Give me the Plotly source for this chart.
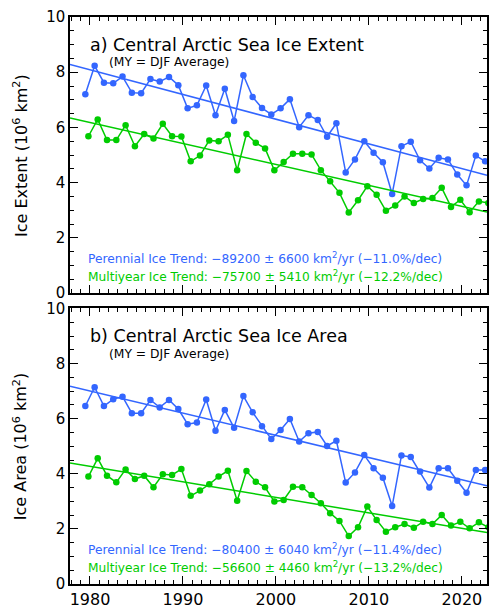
import numpy as np
import plotly.graph_objects as go

years = list(range(1979, 2023))
# plotting time within each year (fraction of year)
perennial_time = 0.5
multiyear_time = 0.83

ext_perennial = [7.20, 8.23, 7.62, 7.60, 7.84, 7.26, 7.24, 7.75, 7.66, 7.83, 7.53,
                 6.69, 6.80, 7.52, 6.44, 7.40, 6.23, 7.89, 7.10, 6.70, 6.47,
                 6.69, 7.02, 6.01, 6.44, 6.27, 5.66, 6.15, 4.37, 4.84, 5.50,
                 5.08, 4.74, 3.59, 5.32, 5.48, 4.81, 4.51, 4.90, 4.84, 4.29,
                 3.90, 4.98, 4.77]
ext_multiyear = [5.68, 6.29, 5.54, 5.54, 6.08, 5.32, 5.76, 5.60, 6.13, 5.68, 5.67,
                 4.77, 4.98, 5.53, 5.50, 5.73, 4.45, 5.76, 5.44, 5.24, 4.45,
                 4.75, 5.05, 5.05, 5.02, 4.45, 4.05, 3.63, 2.92, 3.36, 3.87,
                 3.56, 2.98, 3.17, 3.50, 3.26, 3.41, 3.44, 3.81, 3.12, 3.38,
                 2.93, 3.32, 3.26]
area_perennial = [6.46, 7.14, 6.46, 6.71, 6.80, 6.20, 6.20, 6.68, 6.41, 6.68, 6.35,
                  5.80, 5.86, 6.70, 5.56, 6.32, 5.67, 6.82, 6.23, 5.73, 5.26,
                  5.59, 5.99, 5.17, 5.47, 5.52, 5.01, 5.20, 3.68, 4.05, 4.68,
                  4.20, 3.86, 2.83, 4.66, 4.61, 4.08, 3.50, 4.20, 4.20, 3.75,
                  3.31, 4.14, 4.14]
area_multiyear = [3.90, 4.56, 3.93, 3.69, 4.16, 3.81, 3.93, 3.51, 3.98, 3.96, 4.17,
                  3.20, 3.39, 3.62, 3.90, 4.11, 3.02, 4.10, 3.71, 3.51, 2.99,
                  3.05, 3.53, 3.51, 3.23, 2.93, 2.57, 2.29, 1.74, 2.06, 2.81,
                  2.32, 1.90, 2.06, 2.18, 2.04, 2.26, 2.18, 2.50, 2.12, 2.26,
                  2.02, 2.24, 2.06]

trend_text = {
    "a": ["Perennial Ice Trend: −89200 ± 6600 km<sup>2</sup>/yr (−11.0%/dec)",
          "Multiyear Ice Trend: −75700 ± 5410 km<sup>2</sup>/yr (−12.2%/dec)"],
    "b": ["Perennial Ice Trend: −80400 ± 6040 km<sup>2</sup>/yr (−11.4%/dec)",
          "Multiyear Ice Trend: −56600 ± 4460 km<sup>2</sup>/yr (−13.2%/dec)"],
}
titles = {"a": "a) Central Arctic Sea Ice Extent", "b": "b) Central Arctic Sea Ice Area"}
ytitles = {"a": "Ice Extent (10<sup>6</sup> km<sup>2</sup>)", "b": "Ice Area (10<sup>6</sup> km<sup>2</sup>)"}

BLUE = "#3366FF"
GREEN = "#00CC00"
FONT = "DejaVu Sans"
XR = [1977.85, 2022.7]

xp = np.array(years) + perennial_time
xm = np.array(years) + multiyear_time

fig = go.Figure()

def add_panel(xa, ya, per, my):
    for x, y, c in [(xp, per, BLUE), (xm, my, GREEN)]:
        fig.add_trace(go.Scatter(x=x, y=y, mode="lines+markers", xaxis=xa, yaxis=ya,
                                 line=dict(color=c, width=1.5),
                                 marker=dict(color=c, size=6.5), showlegend=False))
        k, b = np.polyfit(x, y, 1)
        fx = np.array(XR)
        fig.add_trace(go.Scatter(x=fx, y=k * fx + b, mode="lines", xaxis=xa, yaxis=ya,
                                 line=dict(color=c, width=1.5), showlegend=False))

add_panel("x2", "y2", ext_perennial, ext_multiyear)
add_panel("x", "y", area_perennial, area_multiyear)

axis_common = dict(showline=True, linecolor="black", linewidth=1.5, mirror="allticks",
                   ticks="inside", ticklen=8, tickwidth=1.2, tickcolor="black",
                   showgrid=False, zeroline=False)
xfont = dict(family=FONT, size=16, color="black")
yfont = dict(family=FONT, size=15, color="black")

fig.update_layout(
    width=491, height=611,
    margin=dict(l=70, r=2, t=17, b=27),
    plot_bgcolor="white", paper_bgcolor="white",
    xaxis=dict(domain=[0, 1], range=XR, anchor="y", dtick=10, tick0=1980, tickfont=xfont,
               minor=dict(dtick=1, ticks="inside", ticklen=4, tickcolor="black", tickwidth=1),
               **axis_common),
    xaxis2=dict(domain=[0, 1], range=XR, anchor="y2", dtick=10, tick0=1980, showticklabels=False,
                minor=dict(dtick=1, ticks="inside", ticklen=4, tickcolor="black", tickwidth=1),
                **axis_common),
    yaxis=dict(domain=[0, 0.4859], range=[0, 10], anchor="x", dtick=2, tickfont=yfont,
               minor=dict(dtick=0.5, ticks="inside", ticklen=4, tickcolor="black", tickwidth=1),
               **axis_common),
    yaxis2=dict(domain=[0.5132, 1], range=[0, 10], anchor="x2", dtick=2, tickfont=yfont,
                minor=dict(dtick=0.5, ticks="inside", ticklen=4, tickcolor="black", tickwidth=1),
                **axis_common),
)

def add_texts(xa, ya, key, yc):
    fig.add_annotation(x=1979.8, y=9.0, xref=xa, yref=ya, text=titles[key], showarrow=False,
                       xanchor="left", yanchor="middle",
                       font=dict(family=FONT, size=17.5, color="black"))
    fig.add_annotation(x=1981.8, y=8.36, xref=xa, yref=ya, text="(MY = DJF Average)", showarrow=False,
                       xanchor="left", yanchor="middle",
                       font=dict(family=FONT, size=12.3, color="black"))
    fig.add_annotation(x=1979.6, y=1.27, xref=xa, yref=ya, text=trend_text[key][0], showarrow=False,
                       xanchor="left", yanchor="middle",
                       font=dict(family=FONT, size=12.2, color=BLUE))
    fig.add_annotation(x=1979.6, y=0.60, xref=xa, yref=ya, text=trend_text[key][1], showarrow=False,
                       xanchor="left", yanchor="middle",
                       font=dict(family=FONT, size=12.2, color=GREEN))
    fig.add_annotation(x=-0.12, y=yc, xref="paper", yref="paper", text=ytitles[key], showarrow=False,
                       textangle=-90, xanchor="center", yanchor="middle",
                       font=dict(family=FONT, size=16, color="black"))

add_texts("x2", "y2", "a", (1 + 0.5132) / 2)
add_texts("x", "y", "b", 0.4859 / 2)

fig.write_html("out.html")
